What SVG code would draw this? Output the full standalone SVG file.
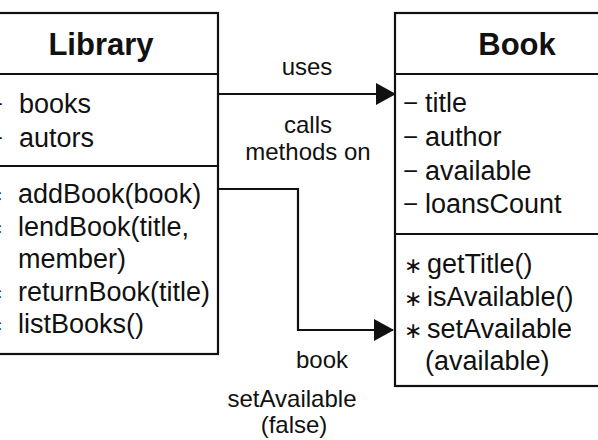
<svg xmlns="http://www.w3.org/2000/svg" width="598" height="440" viewBox="0 0 598 440">
<style>
.box{fill:#fff;stroke:#111;stroke-width:2.2}
.div{stroke:#111;stroke-width:2.2}
.title{font-family:"Liberation Sans",Arial,sans-serif;font-weight:bold;font-size:31px;fill:#111;text-anchor:middle}
.t{font-family:"Liberation Sans",Arial,sans-serif;font-size:27px;fill:#111}
.lbl{font-family:"Liberation Sans",Arial,sans-serif;font-size:24px;fill:#111;text-anchor:middle}
.minus{font-family:"Liberation Sans",Arial,sans-serif;font-size:26px;fill:#111}
.sym{font-family:"DejaVu Sans","Liberation Sans",sans-serif;font-size:22px;fill:#111}
.conn{fill:none;stroke:#111;stroke-width:2.2}
</style>
<defs>
<marker id="ah" markerWidth="20" markerHeight="22" refX="19" refY="11" orient="auto" markerUnits="userSpaceOnUse">
<path d="M0,0 L20,11 L0,22 Z" fill="#111"/>
</marker>
</defs>
<rect width="598" height="440" fill="#fff"/>
<g id="library">
<rect class="box" x="-10" y="13" width="228" height="341"/>
<line class="div" x1="-10" y1="74" x2="218" y2="74"/>
<line class="div" x1="-10" y1="166" x2="218" y2="166"/>
<text class="title" x="101" y="55">Library</text>
<text class="minus" x="3" y="113" text-anchor="end">−</text>
<text class="minus" x="3" y="147" text-anchor="end">−</text>
<text class="t" x="19" y="113">books</text>
<text class="t" x="19" y="147">autors</text>
<text class="sym" x="4" y="203" text-anchor="end">∗</text>
<text class="sym" x="4" y="236" text-anchor="end">∗</text>
<text class="sym" x="4" y="301" text-anchor="end">∗</text>
<text class="sym" x="4" y="333" text-anchor="end">∗</text>
<text class="t" x="18" y="203">addBook(book)</text>
<text class="t" x="18" y="236">lendBook(title,</text>
<text class="t" x="18" y="268">member)</text>
<text class="t" x="18" y="301">returnBook(title)</text>
<text class="t" x="18" y="333">listBooks()</text>
</g>
<g id="book">
<rect class="box" x="395" y="13" width="220" height="373"/>
<line class="div" x1="395" y1="74" x2="615" y2="74"/>
<line class="div" x1="395" y1="234" x2="615" y2="234"/>
<text class="title" x="517" y="55">Book</text>
<text class="minus" x="403" y="112">−</text>
<text class="minus" x="403" y="146">−</text>
<text class="minus" x="403" y="180">−</text>
<text class="minus" x="403" y="213">−</text>
<text class="t" x="425" y="112">title</text>
<text class="t" x="425" y="146">author</text>
<text class="t" x="425" y="180">available</text>
<text class="t" x="425" y="213">loansCount</text>
<text class="sym" x="404" y="273">∗</text>
<text class="sym" x="404" y="306">∗</text>
<text class="sym" x="404" y="338">∗</text>
<text class="t" x="427" y="273">getTitle()</text>
<text class="t" x="427" y="306">isAvailable()</text>
<text class="t" x="427" y="338">setAvailable</text>
<text class="t" x="425" y="370">(available)</text>
</g>
<g id="connectors">
<line class="conn" x1="218" y1="94" x2="395" y2="94" marker-end="url(#ah)"/>
<polyline class="conn" points="218,189 298,189 298,330 393,330" marker-end="url(#ah)"/>
</g>
<g id="labels">
<text class="lbl" x="307" y="75">uses</text>
<text class="lbl" x="308" y="133">calls</text>
<text class="lbl" x="308" y="160">methods on</text>
<text class="lbl" x="322" y="368">book</text>
<text class="lbl" x="292" y="407">setAvailable</text>
<text class="lbl" x="294" y="433">(false)</text>
</g>
</svg>
